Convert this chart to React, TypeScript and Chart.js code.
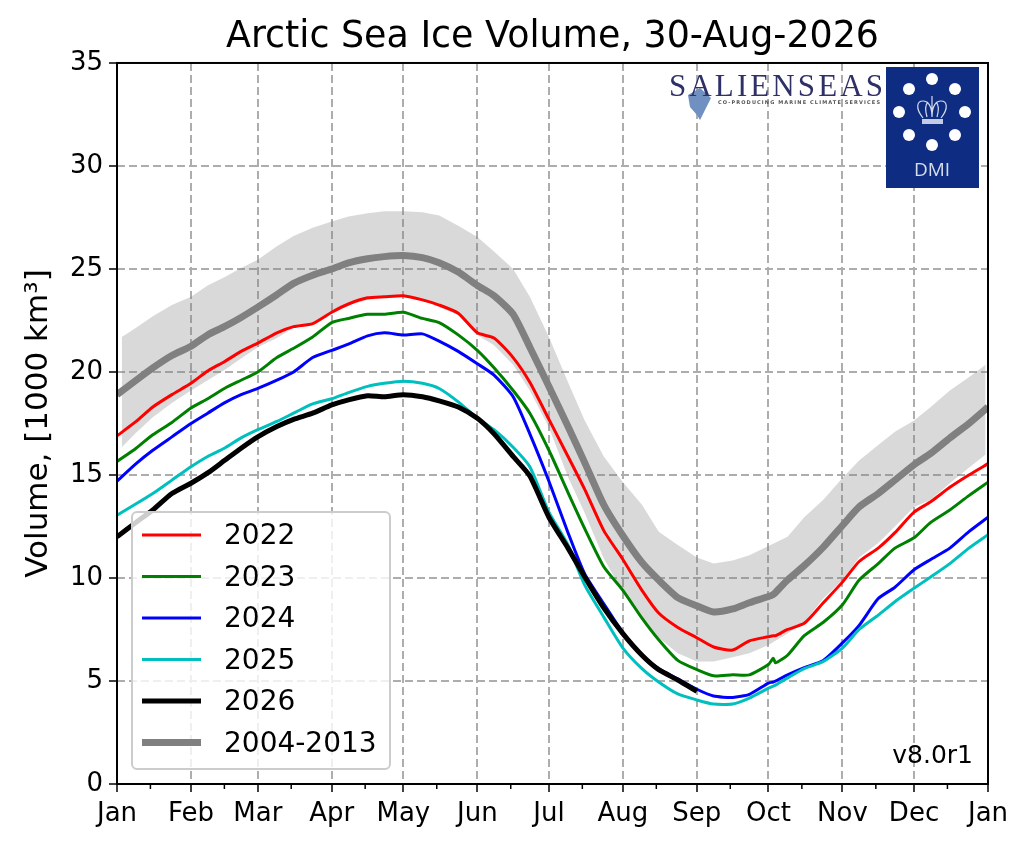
import { useEffect, useRef } from 'react'
import { Chart, registerables } from 'chart.js'

Chart.register(...registerables)

const FONT = '"DejaVu Sans"'

const monthDays = [0, 31, 59, 90, 120, 151, 181, 212, 243, 273, 304, 334, 365]
const monthLabels = ['Jan', 'Feb', 'Mar', 'Apr', 'May', 'Jun', 'Jul', 'Aug', 'Sep', 'Oct', 'Nov', 'Dec', 'Jan']
const minorDays = [14, 45, 73, 104, 134, 165, 195, 226, 257, 287, 318, 348]

// day of year for the line series
const days = [
  0, 8, 15, 23, 31, 38, 45, 52, 59, 67, 74, 82, 90, 97, 105, 112, 120, 128, 135, 143, 151, 158, 166, 173, 181,
  189, 196, 204, 212, 220, 227, 235, 243, 250, 258, 265, 273, 275, 276, 281, 288, 296, 304, 311, 319, 326, 334, 341, 349, 357, 365,
]

const vol2022 = [
  16.9, 17.6, 18.3, 18.9, 19.45, 20.05, 20.5, 21.0, 21.4, 21.9, 22.2, 22.35, 22.9, 23.3, 23.6, 23.65, 23.7, 23.5, 23.25, 22.85, 21.9, 21.65, 20.7, 19.5, 17.7,
  15.9, 14.3, 12.3, 10.9, 9.4, 8.3, 7.6, 7.1, 6.65, 6.5, 6.95, 7.15, 7.2, 7.2, 7.5, 7.8, 8.8, 9.8, 10.8, 11.45, 12.2, 13.2, 13.7, 14.4, 15.0, 15.55,
]
const vol2023 = [
  15.65, 16.3, 16.95, 17.55, 18.25, 18.7, 19.2, 19.6, 20.0, 20.7, 21.15, 21.7, 22.4, 22.6, 22.8, 22.8, 22.9, 22.6, 22.4, 21.8, 21.05, 20.2, 19.1, 18.0, 16.2,
  14.15, 12.4, 10.55, 9.4, 8.05, 7.0, 6.0, 5.55, 5.25, 5.3, 5.3, 5.8, 6.1, 5.88, 6.25, 7.2, 7.85, 8.7, 9.9, 10.7, 11.45, 11.95, 12.7, 13.3, 14.0, 14.65,
]
const vol2024 = [
  14.7, 15.55, 16.2, 16.85, 17.5, 18.0, 18.5, 18.9, 19.2, 19.6, 20.0, 20.7, 21.05, 21.35, 21.75, 21.9, 21.8, 21.85, 21.5, 21.0, 20.4, 19.85, 18.8, 17.0, 14.7,
  12.2, 10.2, 8.75, 7.35, 6.25, 5.6, 5.1, 4.6, 4.27, 4.2, 4.35, 4.9, 4.95, 5.0, 5.3, 5.65, 6.0, 6.85, 7.7, 9.0, 9.55, 10.4, 10.9, 11.45, 12.25, 12.95,
]
const vol2025 = [
  13.05, 13.6, 14.1, 14.75, 15.4, 15.9, 16.3, 16.8, 17.2, 17.6, 18.0, 18.45, 18.7, 19.0, 19.3, 19.45, 19.55, 19.45, 19.2, 18.55, 17.75, 17.2, 16.35, 15.4, 13.2,
  11.6, 9.65, 8.1, 6.6, 5.6, 4.95, 4.37, 4.08, 3.88, 3.88, 4.17, 4.65, 4.75, 4.8, 5.15, 5.6, 5.95, 6.6, 7.5, 8.2, 8.85, 9.5, 10.05, 10.7, 11.45, 12.1,
]
// 2026 stops at the end of August
const vol2026 = [
  12.0, 12.7, 13.3, 14.1, 14.6, 15.1, 15.7, 16.3, 16.85, 17.35, 17.7, 18.0, 18.4, 18.65, 18.85, 18.8, 18.9, 18.8, 18.6, 18.3, 17.75, 17.0, 15.9, 14.95, 12.95,
  11.45, 10.05, 8.55, 7.3, 6.25, 5.55, 5.05, 4.5,
]
const volMean = [
  18.9, 19.6, 20.2, 20.8, 21.25, 21.8, 22.2, 22.65, 23.15, 23.75, 24.3, 24.7, 25.0, 25.3, 25.5, 25.6, 25.65, 25.55, 25.3, 24.85, 24.2, 23.7, 22.8, 21.2, 19.3,
  17.35, 15.6, 13.55, 12.05, 10.75, 9.9, 9.05, 8.65, 8.35, 8.5, 8.8, 9.1, 9.2, 9.3, 9.9, 10.6, 11.5, 12.55, 13.45, 14.1, 14.75, 15.5, 16.05, 16.8, 17.5, 18.3,
]

const bandDays = [
  2, 8, 15, 23, 31, 38, 45, 52, 59, 67, 74, 82, 90, 97, 105, 112, 120, 128, 135, 143, 151, 158, 166, 173, 181,
  189, 196, 204, 212, 220, 227, 235, 243, 250, 258, 265, 273, 281, 288, 296, 304, 311, 319, 326, 334, 341, 349, 357, 364,
]
const bandUpper = [
  21.7, 22.15, 22.7, 23.25, 23.65, 24.2, 24.6, 25.05, 25.45, 26.1, 26.6, 27.0, 27.3, 27.55, 27.7, 27.8, 27.8, 27.75, 27.6, 27.1, 26.55, 25.85, 25.0, 23.65, 21.7,
  19.5, 17.65, 15.9, 14.65, 13.55, 12.25, 11.6, 11.0, 10.7, 10.85, 11.1, 11.55, 12.0, 12.95, 13.8, 14.85, 15.7, 16.45, 17.1, 17.65, 18.3, 19.1, 19.75, 20.35,
]
const bandLower = [
  16.35, 17.05, 17.8, 18.5, 19.1, 19.6, 20.1, 20.65, 21.2, 21.65, 22.15, 22.4, 22.9, 23.25, 23.5, 23.6, 23.65, 23.5, 23.15, 22.75, 21.8, 21.3, 20.35, 19.1, 17.3,
  14.9, 13.15, 10.95, 9.3, 7.95, 7.1, 6.35, 5.95, 5.95, 6.15, 6.35, 6.75, 7.3, 7.85, 9.0, 9.9, 11.0, 11.7, 12.5, 13.45, 13.8, 14.6, 15.35, 16.0,
]

const toPoints = (xs: number[], ys: number[]) => ys.map((y, i) => ({ x: xs[i], y }))

const legendItems = [
  { label: '2022', color: '#ff0000', width: 3 },
  { label: '2023', color: '#008000', width: 3 },
  { label: '2024', color: '#0000ff', width: 3 },
  { label: '2025', color: '#00bfbf', width: 3 },
  { label: '2026', color: '#000000', width: 5 },
  { label: '2004-2013', color: '#808080', width: 7 },
]

// spines, minor ticks, legend box and version note
const framePlugin = {
  id: 'frame',
  afterDraw(chart: any) {
    const { ctx, chartArea: a, scales } = chart
    ctx.save()

    ctx.strokeStyle = '#000'
    ctx.lineWidth = 1.5
    minorDays.forEach((d) => {
      const px = scales.x.getPixelForValue(d)
      ctx.beginPath()
      ctx.moveTo(px, a.bottom)
      ctx.lineTo(px, a.bottom + 5)
      ctx.stroke()
    })

    ctx.lineWidth = 2
    ctx.strokeRect(a.left, a.top, a.right - a.left, a.bottom - a.top)

    ctx.beginPath()
    ctx.roundRect(132, 512, 258, 257, 5)
    ctx.fillStyle = 'rgba(255,255,255,0.8)'
    ctx.fill()
    ctx.strokeStyle = '#cccccc'
    ctx.lineWidth = 2
    ctx.stroke()

    ctx.font = `28px ${FONT}`
    ctx.textBaseline = 'middle'
    ctx.textAlign = 'left'
    legendItems.forEach((item, i) => {
      const y = 535 + i * 41.5
      ctx.strokeStyle = item.color
      ctx.lineWidth = item.width
      ctx.beginPath()
      ctx.moveTo(142, y)
      ctx.lineTo(201, y)
      ctx.stroke()
      ctx.fillStyle = '#000'
      ctx.fillText(item.label, 224, y + 2)
    })

    ctx.font = `25px ${FONT}`
    ctx.textAlign = 'right'
    ctx.fillStyle = '#000'
    ctx.fillText('v8.0r1', 973, 756)
    ctx.restore()
  },
}

function Logos() {
  const dots = [
    [932, 79], [909, 89], [955, 89], [899, 112], [965, 112], [909, 135], [955, 135], [932, 145],
  ]
  return (
    <svg width={1024} height={847} style={{ position: 'absolute', left: 0, top: 0, pointerEvents: 'none' }}>
      <polygon points="688,95 700,88 711,98 705,110 700,120 697,115 690,107" fill="#6f90c0" />
      <text x={669} y={96} fontFamily='"Liberation Serif"' fontSize={31} fill="#2f3068" textLength={214}>
        SALIENSEAS
      </text>
      <text x={718} y={104} fontFamily={FONT} fontSize={5} fontWeight="bold" fill="#555" textLength={162}>
        CO-PRODUCING MARINE CLIMATE SERVICES
      </text>
      <rect x={886} y={67} width={93} height={121} fill="#0e2d82" />
      {dots.map(([cx, cy]) => (
        <circle key={`${cx}-${cy}`} cx={cx} cy={cy} r={6} fill="#fff" />
      ))}
      <path
        d="M923 118 C915 108 917 101 923 101 C928 101 932 106 932 117 C932 106 936 101 941 101 C947 101 949 108 941 118 M932 117 L932 100 M927 117 C925 110 925 105 928 102 M937 117 C939 110 939 105 936 102 M932 100 L932 96"
        fill="none"
        stroke="#d6dcec"
        strokeWidth={1.2}
      />
      <rect x={922} y={119} width={21} height={5} fill="#c3cce2" />
      <text x={932} y={176} textAnchor="middle" fontFamily='"Open Sans"' fontSize={19} fill="#d6dcec">
        DMI
      </text>
    </svg>
  )
}

export default function App() {
  const chartRef = useRef<HTMLCanvasElement>(null)

  useEffect(() => {
    if (!chartRef.current) return

    const lineSet = (label: string, xs: number[], ys: number[], color: string, width: number, order: number) => ({
      label,
      data: toPoints(xs, ys),
      borderColor: color,
      borderWidth: width,
      pointRadius: 0,
      tension: 0.2,
      fill: false,
      order,
    })

    const chart = new Chart(chartRef.current, {
      type: 'line',
      data: {
        datasets: [
          {
            label: 'upper',
            data: toPoints(bandDays, bandUpper),
            borderWidth: 0,
            pointRadius: 0,
            backgroundColor: 'rgba(128,128,128,0.3)',
            fill: '+1',
            order: 8,
          },
          {
            label: 'lower',
            data: toPoints(bandDays, bandLower),
            borderWidth: 0,
            pointRadius: 0,
            fill: false,
            order: 7,
          },
          lineSet('2022', days, vol2022, '#ff0000', 3, 6),
          lineSet('2023', days, vol2023, '#008000', 3, 5),
          lineSet('2024', days, vol2024, '#0000ff', 3, 4),
          lineSet('2025', days, vol2025, '#00bfbf', 3, 3),
          lineSet('2026', days, vol2026, '#000000', 5, 1),
          lineSet('2004-2013', days, volMean, '#808080', 7, 2),
        ] as any[],
      },
      options: {
        animation: false,
        responsive: false,
        devicePixelRatio: 1,
        layout: { padding: { left: 0, right: 36, top: 0, bottom: 0 } },
        plugins: {
          legend: { display: false },
          tooltip: { enabled: false },
          title: {
            display: true,
            fullSize: false,
            text: 'Arctic Sea Ice Volume, 30-Aug-2026',
            color: '#000',
            font: { family: FONT, size: 36.4, weight: 'normal' },
            padding: { top: 16, bottom: 3.3 },
          },
        },
        scales: {
          x: {
            type: 'linear',
            min: 0,
            max: 365,
            afterBuildTicks: (scale: any) => {
              scale.ticks = monthDays.map((value) => ({ value }))
            },
            afterFit: (scale: any) => {
              scale.height = 63
            },
            ticks: {
              autoSkip: false,
              maxRotation: 0,
              color: '#000',
              padding: 7,
              font: { family: FONT, size: 26 },
              callback: (_v: any, i: number) => monthLabels[i],
            },
            border: { display: false, dash: [8, 4] },
            grid: { color: '#adadad', lineWidth: 2, tickLength: 8, tickColor: '#000', tickWidth: 1.5, tickBorderDash: [] },
          },
          y: {
            min: 0,
            max: 35,
            afterFit: (scale: any) => {
              scale.width = 117
            },
            title: {
              display: true,
              text: 'Volume, [1000 km³]',
              color: '#000',
              font: { family: FONT, size: 31, weight: 'normal' },
              padding: { top: 20, bottom: 0 },
            },
            ticks: {
              stepSize: 5,
              color: '#000',
              padding: 6,
              font: { family: FONT, size: 26 },
            },
            border: { display: false, dash: [8, 4] },
            grid: { color: '#adadad', lineWidth: 2, tickLength: 8, tickColor: '#000', tickWidth: 1.5, tickBorderDash: [] },
          },
        },
      },
      plugins: [framePlugin],
    } as any)

    return () => chart.destroy()
  }, [])

  return (
    <div style={{ position: 'absolute', left: 0, top: 0, width: 1024, height: 847, background: '#fff' }}>
      <canvas ref={chartRef} width={1024} height={847} style={{ display: 'block' }}></canvas>
      <Logos />
    </div>
  )
}
